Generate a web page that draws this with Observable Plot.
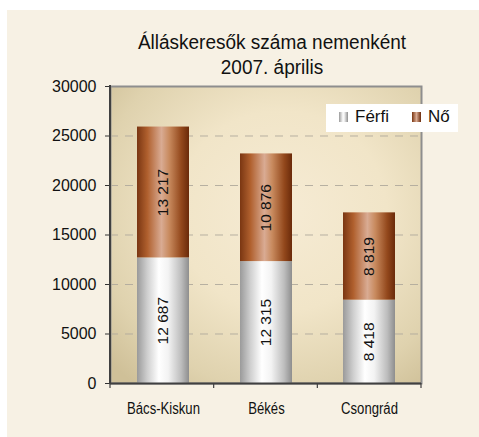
<!DOCTYPE html>
<html><head><meta charset="utf-8">
<script src="https://cdn.jsdelivr.net/npm/d3@7"></script>
<script src="https://cdn.jsdelivr.net/npm/@observablehq/plot@0.6"></script>
<style>
body{margin:0;background:#fff;}
#wrap{position:relative;width:479px;height:437px;overflow:hidden;}
#panel{position:absolute;left:7px;top:10px;width:472px;height:427px;background:#F7F1E4;}
#chart{position:absolute;left:0;top:0;}
#title{position:absolute;left:110px;width:324px;top:31px;text-align:center;font-family:"Liberation Sans",Arial,sans-serif;font-size:19px;line-height:24px;color:#111;transform:scaleY(1.08);}
#legend{position:absolute;left:326px;top:104px;width:132px;height:28px;background:#fff;font-family:"Liberation Sans",Arial,sans-serif;font-size:17px;color:#111;}
.sw{position:absolute;top:8px;width:9px;height:10px;}
.lt{position:absolute;top:3px;line-height:20px;}
</style>
</head><body>
<div id="wrap">
  <div id="panel"></div>
  <div id="chart"></div>
  <div id="title">Álláskeresők száma nemenként<br>2007. április</div>
  <div id="legend"></div>
</div>
<script>
const regions = ["Bács-Kiskun", "Békés", "Csongrád"];
const series = ["Férfi", "Nő"];
const ferfi = [12687, 12315, 8418];
const no = [13217, 10876, 8819];
const yTicks = [0, 5000, 10000, 15000, 20000, 25000, 30000];
const gridTicks = [5000, 10000, 15000, 20000, 25000];
const seriesFills = ["url(#gFerfi)", "url(#gNo)"];

const data = [];
regions.forEach((r, i) => {
  data.push({region: r, sex: series[0], value: ferfi[i]});
  data.push({region: r, sex: series[1], value: no[i]});
});

const fmt = d3.formatLocale({decimal: ",", thousands: " ", grouping: [3], currency: ["", ""]}).format(",");

const plot = Plot.plot({
  width: 479,
  height: 437,
  marginLeft: 110,
  marginRight: 58,
  marginTop: 86,
  marginBottom: 54,
  style: {background: "transparent", fontFamily: "'Liberation Sans', Arial, sans-serif", fontSize: "16px", color: "#111", overflow: "visible"},
  x: {domain: regions, paddingInner: 0.5, paddingOuter: 0.25, label: null},
  y: {domain: [0, 30000], label: null},
  color: {type: "ordinal", domain: series, range: seriesFills},
  marks: [
    Plot.frame({fill: "url(#bgGrad)", stroke: "#8e8e8e", strokeWidth: 2}),
    Plot.gridY(gridTicks, {stroke: "#b0aa9c", strokeOpacity: 0.9, strokeDasharray: "8,7", strokeWidth: 1}),
    Plot.barY(data, {x: "region", y: "value", fill: "sex"}),
    Plot.text(data, Plot.stackY({x: "region", y: "value", text: d => fmt(d.value), rotate: -90, fontSize: 15.5, fill: "#111"})),
    Plot.axisY({ticks: yTicks, tickSize: 5, tickPadding: 9, tickFormat: d => String(d), fontSize: 16, stroke: "#333"}),
    Plot.axisX({tickSize: 0, tickPadding: 19, fontSize: 16, ariaLabel: "x-axis"}),
    Plot.ruleY([0], {stroke: "#404040", strokeWidth: 2})
  ]
});

const svg = d3.select(plot);
const defs = svg.insert("defs", ":first-child");
const lin = (id, stops) => {
  const g = defs.append("linearGradient").attr("id", id).attr("x1", 0).attr("x2", 1).attr("y1", 0).attr("y2", 0);
  stops.forEach(([o, c]) => g.append("stop").attr("offset", o).attr("stop-color", c));
};
lin("gFerfi", [[0, "#9a9a9a"], [0.2, "#cfcfcf"], [0.42, "#ffffff"], [0.6, "#f3f3f3"], [0.85, "#bdbdbd"], [1, "#8e8e8e"]]);
lin("gNo", [[0, "#7a3612"], [0.2, "#b0602e"], [0.47, "#d9ab93"], [0.62, "#c88a5e"], [0.85, "#93481c"], [1, "#6a2a0a"]]);
const rg = defs.append("radialGradient").attr("id", "bgGrad").attr("cx", 0.55).attr("cy", 0.42).attr("r", 0.75);
[[0, "#f6ebd4"], [0.45, "#f1e5c8"], [0.8, "#dfd2ae"], [1, "#cfc098"]].forEach(([o, c]) => rg.append("stop").attr("offset", o).attr("stop-color", c));

// condensed category labels (reference uses a narrow face)
svg.selectAll('g[aria-label="x-axis"] text, g[aria-label="x-axis tick label"] text').each(function() {
  const t = this.getAttribute("transform") || "";
  this.setAttribute("transform", t + " scale(0.82,1)");
});

// left axis line and category boundary ticks from the scales
const xs = plot.scale("x"), ys = plot.scale("y");
const y0 = ys.apply(0), yTop = ys.apply(30000);
const [xr0, xr1] = xs.range;
svg.append("line").attr("x1", xr0).attr("x2", xr0).attr("y1", yTop - 1).attr("y2", y0 + 1).attr("stroke", "#404040").attr("stroke-width", 2);
const step = (xr1 - xr0) / regions.length;
for (let i = 0; i <= regions.length; i++) {
  const x = xr0 + i * step;
  svg.append("line").attr("x1", x).attr("x2", x).attr("y1", y0).attr("y2", y0 + 5).attr("stroke", "#404040").attr("stroke-width", 1.2);
}
document.getElementById("chart").appendChild(plot);

// legend
const leg = document.getElementById("legend");
const legPos = [{sw: 13, tx: 29}, {sw: 86, tx: 102}];
const swatchCss = ["linear-gradient(to right,#9a9a9a,#fff 45%,#eee 60%,#8e8e8e)", "linear-gradient(to right,#7a3612,#d9ab93 50%,#6a2a0a)"];
series.forEach((s, i) => {
  const sw = document.createElement("div");
  sw.className = "sw"; sw.style.left = legPos[i].sw + "px"; sw.style.background = swatchCss[i];
  const t = document.createElement("div");
  t.className = "lt"; t.style.left = legPos[i].tx + "px"; t.textContent = s;
  leg.appendChild(sw); leg.appendChild(t);
});
</script>
</body></html>
